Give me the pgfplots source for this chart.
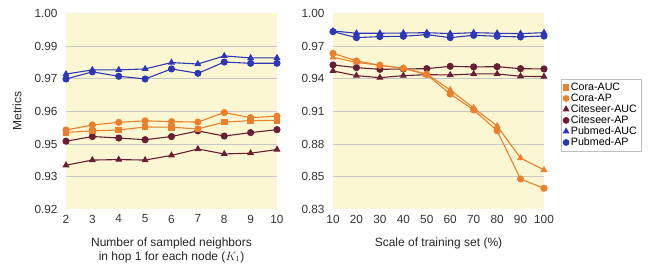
\documentclass[border=0pt]{standalone}
\usepackage{pgfplots}
\pgfplotsset{compat=1.18}
\usepackage{fontspec}
\setmainfont{Liberation Sans}
\definecolor{bgy}{RGB}{251,247,210}
\definecolor{gridc}{RGB}{200,200,200}
\definecolor{cora}{RGB}{234,128,44}
\definecolor{cite}{RGB}{105,30,52}
\definecolor{pub}{RGB}{46,56,180}
\pgfplotsset{
  base/.style={
    scale only axis, width=211pt, height=196pt,
    axis line style={draw=none},
    axis background/.style={fill=bgy},
    major tick length=0pt,
    clip=false,
    /pgf/number format/assume math mode=true,
    tick label style={font=\fontsize{11.8}{13}\selectfont, text=black!80},
    label style={font=\fontsize{12}{14}\selectfont, text=black!85},
    xticklabel style={yshift=-2pt},
    yticklabel style={xshift=-5pt},
    extra y tick labels={},
    extra y tick style={grid=major, major grid style={gridc, line width=0.9pt}},
    every axis plot/.append style={line width=1.1pt, mark size=3pt},
  },
}
\begin{document}
\begin{tikzpicture}[x=1pt,y=1pt]
\useasboundingbox (0,0) rectangle (665,266);
% ---------- left ----------
\begin{axis}[base, at={(66pt,56.7pt)}, anchor=south west,
  xmin=2, xmax=10, xtick={2,...,10},
  ymin=0.92, ymax=1.00,
  ytick={0.92,0.933333,0.946667,0.96,0.973333,0.986667,1.00},
  yticklabels={0.92,0.93,0.95,0.96,0.97,0.99,1.00},
  extra y ticks={0.933333,0.946667,0.96,0.973333,0.986667},
  ylabel={Metrics}, ylabel style={at={(axis description cs:-0.232,0.5)}, anchor=center},
  xlabel={Number of sampled neighbors\\in hop 1 for each node ($K_1$)},
  xlabel style={align=center, at={(axis description cs:0.5,-0.125)}, anchor=north},
]
\addplot[cite, mark=*] coordinates {(2,0.9478)(3,0.9497)(4,0.9491)(5,0.9484)(6,0.9497)(7,0.9520)(8,0.9499)(9,0.9513)(10,0.9525)};
\addplot[cite, mark=triangle*] coordinates {(2,0.9380)(3,0.9401)(4,0.9403)(5,0.9401)(6,0.9420)(7,0.9446)(8,0.9426)(9,0.9429)(10,0.9444)};
\addplot[cora, mark=square*, mark size=2.8pt] coordinates {(2,0.9514)(3,0.9520)(4,0.9524)(5,0.9536)(6,0.9535)(7,0.9528)(8,0.9556)(9,0.9562)(10,0.9563)};
\addplot[cora, mark=*] coordinates {(2,0.9524)(3,0.9544)(4,0.9555)(5,0.9561)(6,0.9558)(7,0.9556)(8,0.9595)(9,0.9574)(10,0.9580)};
\addplot[pub, mark=triangle*] coordinates {(2,0.9752)(3,0.9769)(4,0.9769)(5,0.9773)(6,0.9799)(7,0.9793)(8,0.9826)(9,0.9818)(10,0.9818)};
\addplot[pub, mark=*] coordinates {(2,0.9732)(3,0.9761)(4,0.9743)(5,0.9732)(6,0.9773)(7,0.9755)(8,0.9801)(9,0.9796)(10,0.9796)};
\end{axis}
% ---------- right ----------
\begin{axis}[base, at={(333pt,56.7pt)}, anchor=south west,
  xmin=10, xmax=100, xtick={10,20,...,100},
  ymin=0.83, ymax=1.00,
  ytick={0.83,0.858333,0.886667,0.915,0.943333,0.971667,1.00},
  yticklabels={0.83,0.85,0.88,0.91,0.94,0.97,1.00},
  extra y ticks={0.858333,0.886667,0.915,0.943333,0.971667},
  xlabel={Scale of training set (\%)},
  xlabel style={at={(axis description cs:0.5,-0.125)}, anchor=north},
  legend style={at={(1.081,0.665)}, anchor=north west, draw=black!25,
    font=\fontsize{10.7}{11}\selectfont, row sep=-2.2pt, inner sep=2pt,
    cells={anchor=west}},
  legend cell align=left,
]
\addplot[cite, mark=*, forget plot] coordinates {(10,0.9552)(20,0.9529)(30,0.9514)(40,0.9517)(50,0.9520)(60,0.9540)(70,0.9535)(80,0.9537)(90,0.9520)(100,0.9517)};
\addplot[cite, mark=triangle*, forget plot] coordinates {(10,0.9500)(20,0.9459)(30,0.9442)(40,0.9459)(50,0.9468)(60,0.9465)(70,0.9474)(80,0.9474)(90,0.9454)(100,0.9451)};
\addplot[cora, mark=triangle*, forget plot] coordinates {(10,0.9618)(20,0.9575)(30,0.9549)(40,0.9523)(50,0.9474)(60,0.9335)(70,0.9179)(80,0.9023)(90,0.8745)(100,0.8641)};
\addplot[cora, mark=*, forget plot] coordinates {(10,0.9653)(20,0.9587)(30,0.9549)(40,0.9523)(50,0.9468)(60,0.9300)(70,0.9162)(80,0.8982)(90,0.8563)(100,0.8482)};
\addplot[pub, mark=triangle*, forget plot] coordinates {(10,0.9847)(20,0.9827)(30,0.9827)(40,0.9829)(50,0.9832)(60,0.9824)(70,0.9832)(80,0.9827)(90,0.9824)(100,0.9832)};
\addplot[pub, mark=*, forget plot] coordinates {(10,0.9841)(20,0.9789)(30,0.9798)(40,0.9801)(50,0.9815)(60,0.9789)(70,0.9809)(80,0.9801)(90,0.9795)(100,0.9803)};
\addlegendimage{only marks, cora, mark=square*, mark size=2.6pt}
\addlegendentry{Cora-AUC}
\addlegendimage{only marks, cora, mark=*, mark size=2.8pt}
\addlegendentry{Cora-AP}
\addlegendimage{only marks, cite, mark=triangle*, mark size=3pt}
\addlegendentry{Citeseer-AUC}
\addlegendimage{only marks, cite, mark=*, mark size=2.8pt}
\addlegendentry{Citeseer-AP}
\addlegendimage{only marks, pub, mark=triangle*, mark size=3pt}
\addlegendentry{Pubmed-AUC}
\addlegendimage{only marks, pub, mark=*, mark size=2.8pt}
\addlegendentry{Pubmed-AP}
\end{axis}
\end{tikzpicture}
\end{document}
